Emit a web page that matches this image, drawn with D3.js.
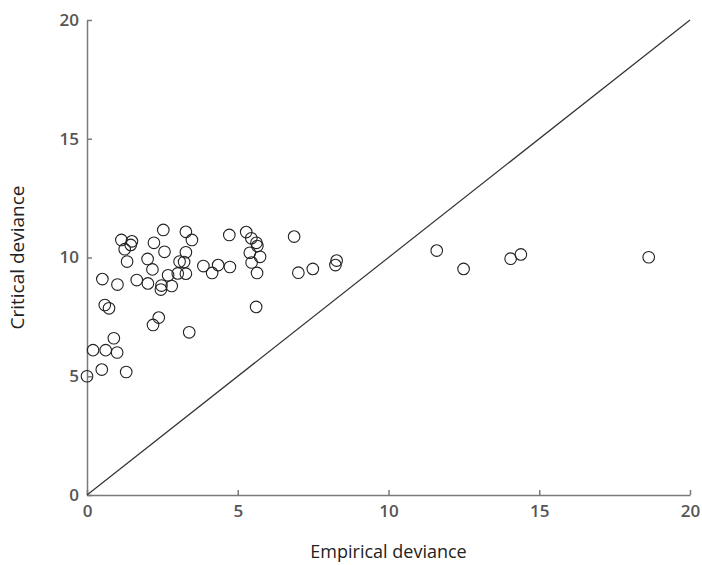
<!DOCTYPE html>
<html>
<head>
<meta charset="utf-8">
<script src="https://cdn.jsdelivr.net/npm/d3@7"></script>
<style>
  html, body { margin: 0; padding: 0; background: #fff; }
  svg { display: block; }
</style>
</head>
<body>
<svg id="chart" width="702" height="565"></svg>
<script>
// Empirical vs. critical deviance for each fitted model
const empirical = [
  0.0, 0.2, 0.49, 0.51, 0.59, 0.73, 0.62, 0.89, 1.0, 1.01,
  1.14, 1.25, 1.30, 1.33, 1.45, 1.49, 1.65, 2.01, 2.02, 2.19,
  2.17, 2.22, 2.38, 2.47, 2.45, 2.53, 2.57, 2.69, 2.81, 3.01,
  3.07, 3.22, 3.28, 3.28, 3.28, 3.39, 3.48, 3.86, 4.15, 4.35,
  4.72, 4.74, 5.28, 5.45, 5.62, 5.65, 5.40, 5.74, 5.46, 5.64,
  5.61, 6.87, 7.01, 7.49, 8.28, 8.24, 11.6, 12.49, 14.05, 14.39,
  18.63
];
const critical = [
  5.0, 6.1, 5.28, 9.09, 8.0, 7.86, 6.1, 6.6, 6.0, 8.86,
  10.74, 10.35, 5.18, 9.83, 10.53, 10.68, 9.05, 9.94, 8.91, 7.16,
  9.5, 10.62, 7.47, 8.82, 8.65, 11.16, 10.24, 9.25, 8.8, 9.33,
  9.83, 9.81, 11.08, 10.22, 9.32, 6.85, 10.74, 9.64, 9.35, 9.68,
  10.95, 9.6, 11.07, 10.81, 10.62, 10.48, 10.2, 10.03, 9.79, 9.35,
  7.92, 10.88, 9.36, 9.52, 9.87, 9.68, 10.29, 9.52, 9.95, 10.13,
  10.01
];
const xTicks = [0, 5, 10, 15, 20];
const yTicks = [0, 5, 10, 15, 20];
const domainMax = 20;

const svg = d3.select("#chart");

const x = d3.scaleLinear().domain([0, domainMax]).range([87, 690]);
const y = d3.scaleLinear().domain([0, domainMax]).range([495, 20]);

const axisColor = "#7a7a7a";
const fontStack = "'Open Sans', 'Noto Sans', sans-serif";

// Bottom axis, ticks pointing into the plot
const xAxis = svg.append("g")
  .attr("transform", `translate(0,${y(0)})`)
  .call(d3.axisBottom(x).tickValues(xTicks).tickSizeInner(-5).tickSizeOuter(0).tickPadding(10));

// Left axis, ticks pointing into the plot
const yAxis = svg.append("g")
  .attr("transform", `translate(${x(0)},0)`)
  .call(d3.axisLeft(y).tickValues(yTicks).tickSizeInner(-5).tickSizeOuter(0).tickPadding(8));

[xAxis, yAxis].forEach(g => {
  g.select(".domain").attr("stroke", axisColor).attr("stroke-width", 1.5);
  g.selectAll(".tick line").attr("stroke", axisColor).attr("stroke-width", 1.5);
  g.selectAll(".tick text")
    .attr("fill", "#555")
    .style("font-family", fontStack)
    .style("font-size", "17px")
    .style("font-weight", "600");
});

// Identity line y = x
svg.append("line")
  .attr("x1", x(0)).attr("y1", y(0))
  .attr("x2", x(domainMax)).attr("y2", y(domainMax))
  .attr("stroke", "#333")
  .attr("stroke-width", 1.2);

// Open circle markers
svg.append("g")
  .selectAll("circle")
  .data(empirical.map((e, i) => [e, critical[i]]))
  .join("circle")
  .attr("cx", d => x(d[0]))
  .attr("cy", d => y(d[1]))
  .attr("r", 5.8)
  .attr("fill", "none")
  .attr("stroke", "#222")
  .attr("stroke-width", 1.1);

// Axis titles
svg.append("text")
  .attr("x", (x(0) + x(domainMax)) / 2)
  .attr("y", 558)
  .attr("text-anchor", "middle")
  .attr("fill", "#222")
  .style("font-family", fontStack)
  .style("font-size", "18px")
  .text("Empirical deviance");

svg.append("text")
  .attr("transform", `translate(24,${(y(0) + y(domainMax)) / 2}) rotate(-90)`)
  .attr("text-anchor", "middle")
  .attr("fill", "#222")
  .style("font-family", fontStack)
  .style("font-size", "19px")
  .text("Critical deviance");
</script>
</body>
</html>
